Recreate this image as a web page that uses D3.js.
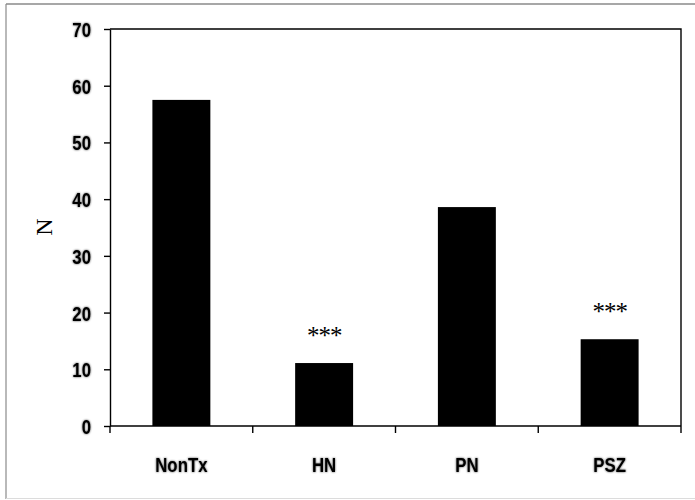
<!DOCTYPE html>
<html>
<head>
<meta charset="utf-8">
<script src="https://cdn.jsdelivr.net/npm/d3@7"></script>
<style>
  body { margin: 0; background: #fff; }
  .tick text, .xlab { font-family: "Liberation Sans", Arial, sans-serif; font-weight: bold; fill: #000; }
</style>
</head>
<body>
<svg id="chart" width="695" height="500"></svg>
<script>
const categories = ["NonTx", "HN", "PN", "PSZ"];
const values = [57.5, 11.1, 38.6, 15.3];
const marks = ["", "***", "", "***"];
const yTicks = [0, 10, 20, 30, 40, 50, 60, 70];

const width = 695, height = 500;
const margin = {top: 29, right: 14, bottom: 74, left: 110};

const svg = d3.select("#chart");

// soft halo like the scanned labels
const f = svg.append("defs").append("filter").attr("id", "soft")
  .attr("x", "-20%").attr("y", "-20%").attr("width", "140%").attr("height", "140%");
f.append("feGaussianBlur").attr("in", "SourceAlpha").attr("stdDeviation", 0.9).attr("result", "b");
f.append("feComponentTransfer").attr("in", "b").attr("result", "bs")
  .append("feFuncA").attr("type", "linear").attr("slope", 0.7);
const fm = f.append("feMerge");
fm.append("feMergeNode").attr("in", "bs");
fm.append("feMergeNode").attr("in", "SourceGraphic");

// squeeze text horizontally (narrow bold look)
function squeeze(sel, k) {
  sel.each(function() {
    const w = this.getComputedTextLength();
    this.setAttribute("textLength", w * k);
    this.setAttribute("lengthAdjust", "spacingAndGlyphs");
  });
}

// page frame (top + left darker, bottom light)
svg.append("line").attr("x1", 6).attr("x2", width).attr("y1", 4).attr("y2", 4)
  .attr("stroke", "#8a8a8a").attr("stroke-width", 1.5);
svg.append("line").attr("x1", 6).attr("x2", 6).attr("y1", 4).attr("y2", 499)
  .attr("stroke", "#8a8a8a").attr("stroke-width", 1.2);
svg.append("line").attr("x1", 6).attr("x2", width).attr("y1", 498.5).attr("y2", 498.5)
  .attr("stroke", "#dcdcdc").attr("stroke-width", 1);

const x = d3.scaleBand()
  .domain(categories)
  .range([margin.left, width - margin.right])
  .paddingInner(0.594)
  .paddingOuter(0.297);

const y = d3.scaleLinear()
  .domain([0, 70])
  .range([height - margin.bottom, margin.top]);

// bars
svg.append("g")
  .selectAll("rect")
  .data(values)
  .join("rect")
    .attr("x", (d, i) => x(categories[i]))
    .attr("y", d => y(d))
    .attr("width", x.bandwidth())
    .attr("height", d => y(0) - y(d))
    .attr("fill", "#000");

// significance stars
svg.append("g")
  .selectAll("text")
  .data(values)
  .join("text")
    .attr("x", (d, i) => x(categories[i]) + x.bandwidth() / 2)
    .attr("y", d => y(d) - 19)
    .attr("text-anchor", "middle")
    .style("font-family", '"Liberation Serif", "Times New Roman", serif')
    .style("font-size", "25px")
    .style("letter-spacing", "-1px")
    .text((d, i) => marks[i]);

// y axis
svg.append("g")
  .attr("transform", `translate(${margin.left},0)`)
  .call(d3.axisLeft(y).tickValues(yTicks).tickSize(6).tickSizeOuter(0).tickPadding(13))
  .call(g => g.selectAll("line, path").attr("stroke", "#000").attr("stroke-width", 1.4))
  .call(g => g.selectAll("text")
    .style("font-size", "21px").attr("dy", "0.36em").attr("filter", "url(#soft)")
    .call(squeeze, 0.8));

// plot frame top + right
const x0 = x.range()[0], x1 = x.range()[1];
svg.append("path")
  .attr("d", `M${x0},${y(70)}H${x1}V${y(0)}`)
  .attr("fill", "none").attr("stroke", "#000").attr("stroke-width", 1.4);

// x baseline and boundary ticks
svg.append("line")
  .attr("x1", x0).attr("x2", x1).attr("y1", y(0)).attr("y2", y(0))
  .attr("stroke", "#000").attr("stroke-width", 1.4);
svg.append("g")
  .selectAll("line")
  .data(d3.range(categories.length + 1))
  .join("line")
    .attr("x1", i => x0 + i * x.step())
    .attr("x2", i => x0 + i * x.step())
    .attr("y1", y(0))
    .attr("y2", y(0) + 7)
    .attr("stroke", "#000").attr("stroke-width", 1.4);

// category labels
svg.append("g")
  .selectAll("text")
  .data(categories)
  .join("text")
    .attr("class", "xlab")
    .attr("x", d => x(d) + x.bandwidth() / 2)
    .attr("y", 471.5)
    .attr("text-anchor", "middle")
    .attr("filter", "url(#soft)")
    .style("font-size", "21px")
    .text(d => d)
    .call(squeeze, 0.8);

// y axis title
svg.append("text")
  .attr("transform", "translate(52,227) rotate(-90)")
  .attr("text-anchor", "middle")
  .style("font-family", '"Liberation Serif", "Times New Roman", serif')
  .style("font-size", "24px")
  .text("N");
</script>
</body>
</html>
